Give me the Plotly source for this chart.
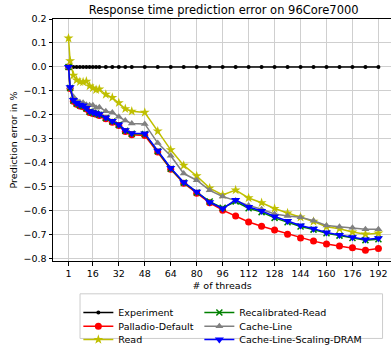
import plotly.graph_objects as go

# Thread counts used in the benchmark runs
threads = [1, 2, 4, 6, 8, 10, 12, 14, 16, 18, 20, 24, 28, 32, 36, 40, 48, 56,
           64, 72, 80, 88, 96, 104, 112, 120, 128, 136, 144, 152, 160, 168,
           176, 184, 192]

# Prediction error (fraction) per model
experiment = [0.0] * len(threads)
palladio_default = [0.0, -0.09, -0.143, -0.156, -0.163, -0.166, -0.176, -0.19,
                    -0.194, -0.198, -0.203, -0.216, -0.231, -0.245, -0.27, -0.283,
                    -0.286, -0.355, -0.427, -0.485, -0.527, -0.567, -0.598, -0.622,
                    -0.647, -0.665, -0.681, -0.698, -0.714, -0.727, -0.739, -0.747,
                    -0.755, -0.765, -0.758]
read = [0.12, 0.025, -0.035, -0.055, -0.062, -0.063, -0.06, -0.08, -0.088,
        -0.095, -0.093, -0.115, -0.128, -0.15, -0.175, -0.185, -0.19, -0.268,
        -0.346, -0.411, -0.455, -0.506, -0.534, -0.514, -0.547, -0.567, -0.591,
        -0.61, -0.627, -0.645, -0.667, -0.675, -0.689, -0.698, -0.694]
recalibrated_read = [0.0, -0.088, -0.14, -0.153, -0.16, -0.163, -0.173, -0.187,
                     -0.191, -0.195, -0.2, -0.213, -0.228, -0.242, -0.266, -0.279,
                     -0.28, -0.352, -0.425, -0.483, -0.524, -0.562, -0.588, -0.562,
                     -0.59, -0.606, -0.63, -0.648, -0.666, -0.679, -0.694, -0.704,
                     -0.714, -0.723, -0.719]
cache_line = [0.0, -0.085, -0.125, -0.14, -0.147, -0.15, -0.158, -0.16, -0.16,
              -0.17, -0.168, -0.185, -0.19, -0.208, -0.224, -0.236, -0.238, -0.318,
              -0.371, -0.445, -0.473, -0.515, -0.541, -0.558, -0.578, -0.594,
              -0.614, -0.622, -0.627, -0.642, -0.662, -0.667, -0.671, -0.678, -0.678]
cache_line_scaling_dram = [0.0, -0.085, -0.138, -0.151, -0.158, -0.161, -0.171,
                           -0.185, -0.189, -0.193, -0.198, -0.211, -0.226, -0.24,
                           -0.264, -0.277, -0.278, -0.35, -0.422, -0.481, -0.521,
                           -0.565, -0.591, -0.555, -0.585, -0.601, -0.624, -0.643,
                           -0.662, -0.675, -0.691, -0.701, -0.711, -0.72, -0.715]

x_ticks = [1, 16, 32, 48, 64, 80, 96, 112, 128, 144, 160, 176, 192]
y_ticks = [0.2, 0.1, 0.0, -0.1, -0.2, -0.3, -0.4, -0.5, -0.6, -0.7, -0.8]

FONT = "DejaVu Sans"

# name, values, colour, marker symbol, marker size, legend row, entry width
series = [
    ("Experiment", experiment, "black", "circle", 4, "legend", 76),
    ("Palladio-Default", palladio_default, "#ff0000", "circle", 7, "legend2", 76),
    ("Read", read, "#bfbf00", "star", 7.5, "legend3", 76),
    ("Recalibrated-Read", recalibrated_read, "#008000", "x-thin", 6, "legend", 140),
    ("Cache-Line", cache_line, "#808080", "triangle-up", 7, "legend2", 140),
    ("Cache-Line-Scaling-DRAM", cache_line_scaling_dram, "#0000ff", "triangle-down", 8, "legend3", 140),
]

fig = go.Figure()
for name, vals, color, symbol, size, leg, lw in series:
    marker = dict(color=color, symbol=symbol, size=size)
    if symbol == "x-thin":
        marker["line"] = dict(color=color, width=1.5)
    else:
        marker["line"] = dict(width=0)
    fig.add_trace(go.Scatter(
        x=threads, y=vals, name=name, mode="lines+markers",
        line=dict(color=color, width=1.5), marker=marker,
        legend=leg, legendwidth=lw,
    ))

legend_common = dict(
    orientation="h", xanchor="left", yanchor="top",
    bgcolor="rgba(0,0,0,0)", borderwidth=0,
    font=dict(family=FONT, size=9.5, color="black"),
    entrywidthmode="pixels", itemclick=False,
)

fig.update_layout(
    width=391, height=354,
    margin=dict(l=53, r=0, t=19, b=81),
    paper_bgcolor="white", plot_bgcolor="white",
    font=dict(family=FONT, size=9.5, color="black"),
    title=dict(text="Response time prediction error on 96Core7000",
               xref="paper", x=0.505, xanchor="center",
               y=0.972, yanchor="middle",
               font=dict(family=FONT, size=11.5, color="black")),
    xaxis=dict(range=[-8.55, 199.75], tickvals=x_ticks,
               ticktext=[str(v) for v in x_ticks],
               showgrid=True, gridcolor="#cfcfcf", gridwidth=1.2,
               showline=True, linecolor="black", linewidth=1, mirror=True,
               ticks="outside", ticklen=3.5, tickcolor="black",
               zeroline=False,
               title=dict(text="# of threads", standoff=4,
                          font=dict(family=FONT, size=9.5))),
    yaxis=dict(range=[-0.81, 0.2], tickvals=y_ticks, tickformat=".1f",
               showgrid=True, gridcolor="#cfcfcf", gridwidth=1.2,
               showline=True, linecolor="black", linewidth=1, mirror=False,
               ticks="outside", ticklen=3.5, tickcolor="black",
               zeroline=False,
               title=dict(text="Prediction error in %", standoff=4,
                          font=dict(family=FONT, size=9.5))),
    legend=dict(x=0.075, y=-0.153, **legend_common),
    legend2=dict(x=0.075, y=-0.21, **legend_common),
    legend3=dict(x=0.075, y=-0.267, **legend_common),
    shapes=[dict(type="rect", xref="paper", yref="paper",
                 x0=0.08, x1=0.975, y0=-0.32, y1=-0.1356,
                 line=dict(color="#cccccc", width=1),
                 fillcolor="white", layer="above")],
)

fig.write_html("out.html")
